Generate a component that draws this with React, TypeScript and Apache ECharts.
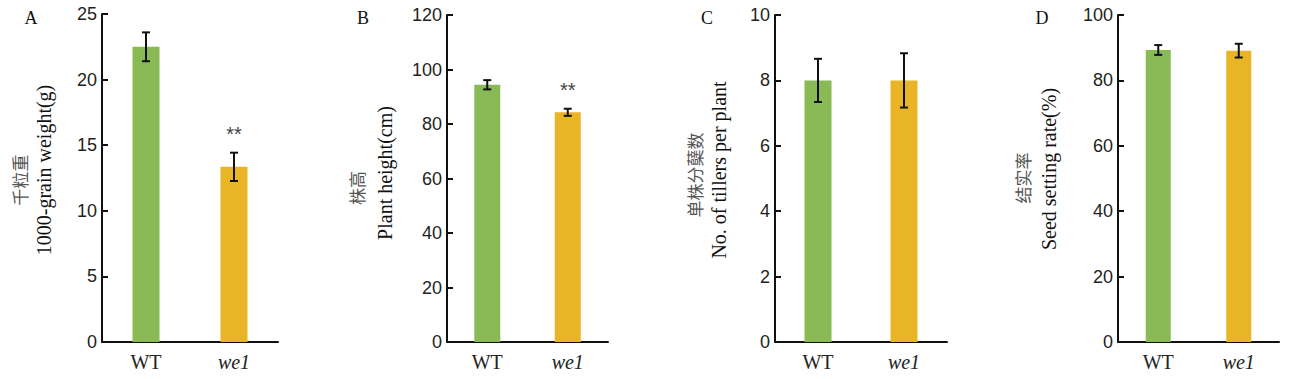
import React, { useEffect, useRef } from "react";
import * as echarts from "echarts";

const categories = ["WT", "we1"];
const categoryItalic = [false, true];
const barColors = ["#8aba55", "#e9b426"];

const grainWeight = [22.5, 13.35];
const grainWeightErr = [1.1, 1.08];
const grainWeightSig = ["", "**"];

const plantHeight = [94.4, 84.3];
const plantHeightErr = [1.7, 1.3];
const plantHeightSig = ["", "**"];

const tillers = [8.0, 8.0];
const tillersErr = [0.66, 0.83];
const tillersSig = ["", ""];

const seedSetting = [89.3, 89.1];
const seedSettingErr = [1.5, 2.1];
const seedSettingSig = ["", ""];

const yMax = [25, 120, 10, 100];
const yInterval = [5, 20, 2, 20];
const panelLetters = ["A", "B", "C", "D"];
const cnTitles = ["千粒重", "株高", "单株分蘖数", "结实率"];
const enTitles = ["1000-grain weight(g)", "Plant height(cm)", "No. of tillers per plant", "Seed setting rate(%)"];

const panels = [
  { values: grainWeight, errs: grainWeightErr, sig: grainWeightSig },
  { values: plantHeight, errs: plantHeightErr, sig: plantHeightSig },
  { values: tillers, errs: tillersErr, sig: tillersSig },
  { values: seedSetting, errs: seedSettingErr, sig: seedSettingSig },
];

const SERIF = "Liberation Serif";
const CJK = "Noto Sans CJK SC";

// layout
const grids = [
  { left: 102, top: 14, width: 176, height: 328 },
  { left: 447, top: 15, width: 161, height: 327 },
  { left: 775, top: 15, width: 172, height: 327 },
  { left: 1118, top: 15, width: 161, height: 327 },
];
const barWidths = [27, 26, 27, 25];
const letterPos = [[31, 18], [363, 18], [707, 18], [1042, 18]];
const cnPos = [[19, 180], [356, 188], [694, 175], [1022, 178]];
const enPos = [[44, 170], [385, 173], [719, 170], [1049, 169]];

export default function App() {
  const ref = useRef<HTMLDivElement>(null);
  useEffect(() => {
    if (!ref.current) return;
    const chart = echarts.init(ref.current, null, { renderer: "svg" });
    const xAxis: any[] = [];
    const yAxis: any[] = [];
    const series: any[] = [];
    const graphic: any[] = [];
    panels.forEach((p, gi) => {
      xAxis.push({
        type: "category",
        gridIndex: gi,
        data: categories,
        boundaryGap: true,
        axisLine: { lineStyle: { color: "#111", width: 2 } },
        axisTick: { inside: true, length: 4, lineStyle: { color: "#111", width: 2 } },
        axisLabel: { show: false },
        splitLine: { show: false },
      });
      yAxis.push({
        type: "value",
        gridIndex: gi,
        min: 0,
        max: yMax[gi],
        interval: yInterval[gi],
        axisLine: { show: true, lineStyle: { color: "#111", width: 2 } },
        axisTick: { show: true, inside: true, length: 6, lineStyle: { color: "#111", width: 2 } },
        axisLabel: { margin: 5, fontFamily: "Liberation Sans", fontSize: 18, color: "#231f20" },
        splitLine: { show: false },
      });
      series.push({
        type: "bar",
        xAxisIndex: gi,
        yAxisIndex: gi,
        barWidth: barWidths[gi],
        data: p.values.map((v, i) => ({ value: v, itemStyle: { color: barColors[i] } })),
      });
      series.push({
        type: "custom",
        xAxisIndex: gi,
        yAxisIndex: gi,
        z: 5,
        clip: false,
        data: p.values.map((v, i) => [i, v, p.errs[i]]),
        encode: { x: 0, y: 1 },
        renderItem: (params: any, api: any) => {
          const idx = params.dataIndex;
          const x = api.value(0);
          const v = api.value(1);
          const e = api.value(2);
          const top = api.coord([x, v + e]);
          const bot = api.coord([x, v - e]);
          const base = api.coord([x, 0]);
          const hw = 4;
          const st = { stroke: "#111", lineWidth: 2 };
          const children: any[] = [
            { type: "line", shape: { x1: top[0], y1: top[1], x2: bot[0], y2: bot[1] }, style: st },
            { type: "line", shape: { x1: top[0] - hw, y1: top[1], x2: top[0] + hw, y2: top[1] }, style: st },
            { type: "line", shape: { x1: bot[0] - hw, y1: bot[1], x2: bot[0] + hw, y2: bot[1] }, style: st },
            {
              type: "text",
              x: base[0],
              y: base[1] + 20,
              style: {
                text: categories[idx],
                fontFamily: SERIF,
                fontSize: 20,
                fontStyle: categoryItalic[idx] ? "italic" : "normal",
                fill: "#222",
                align: "center",
                verticalAlign: "middle",
              },
            },
          ];
          const s = p.sig[idx];
          if (s) {
            children.push({
              type: "text",
              x: top[0],
              y: top[1] - 19,
              style: {
                text: s,
                fontFamily: "Liberation Sans",
                fontSize: 20,
                fill: "#444",
                align: "center",
                verticalAlign: "middle",
              },
            });
          }
          return { type: "group", children };
        },
      });
      graphic.push({
        type: "text",
        x: letterPos[gi][0],
        y: letterPos[gi][1],
        style: { text: panelLetters[gi], fontFamily: SERIF, fontSize: 18, fill: "#111", align: "center", verticalAlign: "middle" },
      });
      graphic.push({
        type: "text",
        x: cnPos[gi][0],
        y: cnPos[gi][1],
        rotation: Math.PI / 2,
        style: { text: cnTitles[gi], fontFamily: CJK, fontSize: 17, fill: "#555", align: "center", verticalAlign: "middle" },
      });
      graphic.push({
        type: "text",
        x: enPos[gi][0],
        y: enPos[gi][1],
        rotation: Math.PI / 2,
        style: { text: enTitles[gi], fontFamily: SERIF, fontSize: 20, fill: "#111", align: "center", verticalAlign: "middle" },
      });
    });
    chart.setOption({
      animation: false,
      backgroundColor: "#fff",
      grid: grids.map((g) => ({ ...g, containLabel: false })),
      xAxis,
      yAxis,
      series,
      graphic,
    });
    return () => chart.dispose();
  }, []);
  return <div ref={ref} style={{ position: "absolute", left: 0, top: 0, width: 1300, height: 379 }} />;
}
